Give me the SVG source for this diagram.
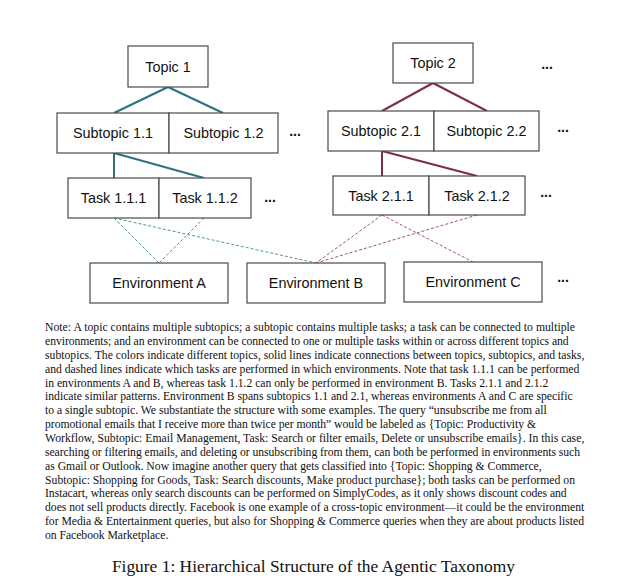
<svg xmlns="http://www.w3.org/2000/svg" width="630" height="584" viewBox="0 0 630 584">
<style>
.box{fill:#fff;stroke:#4a4a4a;stroke-width:1.2}
.lbl{font-family:"Liberation Sans",Arial,sans-serif;font-size:14.4px;fill:#111;text-anchor:middle}
.dots{font-family:"Liberation Sans",Arial,sans-serif;font-size:14px;font-weight:bold;fill:#111;text-anchor:middle}
.t1{stroke:#2b7282;stroke-width:2;fill:none}
.t2{stroke:#7d2f3d;stroke-width:2;fill:none}
.d1{stroke:#4f95a3;stroke-width:1;stroke-dasharray:3 2;fill:none}
.d2{stroke:#a05a68;stroke-width:1;stroke-dasharray:3 2;fill:none}
.note{font-family:"Liberation Serif","Times New Roman",serif;font-size:11.7px;fill:#111}
.cap{font-family:"Liberation Serif","Times New Roman",serif;font-size:17.4px;fill:#111;text-anchor:middle}
</style>
<rect width="630" height="584" fill="#fff"/>
<g id="connectors">
<line class="t1" x1="168" y1="87" x2="114" y2="113"/>
<line class="t1" x1="168" y1="87" x2="223" y2="113"/>
<line class="t1" x1="114" y1="153" x2="114" y2="178"/>
<line class="t1" x1="114" y1="153" x2="204" y2="178"/>
<line class="t2" x1="433" y1="83" x2="382" y2="111"/>
<line class="t2" x1="433" y1="83" x2="487" y2="111"/>
<line class="t2" x1="382" y1="151" x2="382" y2="176"/>
<line class="t2" x1="382" y1="151" x2="477" y2="176"/>
<line class="d1" x1="114" y1="218" x2="159" y2="263"/>
<line class="d1" x1="114" y1="218" x2="316" y2="263"/>
<line class="d1" x1="204" y1="218" x2="159" y2="263"/>
<line class="d2" x1="382" y1="215" x2="316" y2="263"/>
<line class="d2" x1="382" y1="215" x2="473" y2="262"/>
<line class="d2" x1="477" y1="215" x2="316" y2="263"/>
</g>
<g id="topic1"><rect class="box" x="128" y="46" width="80" height="41"/><text class="lbl" x="168" y="71.5">Topic 1</text></g>
<g id="subtopic11"><rect class="box" x="57" y="113" width="112" height="40"/><text class="lbl" x="113" y="138">Subtopic 1.1</text></g>
<g id="subtopic12"><rect class="box" x="169" y="113" width="109" height="40"/><text class="lbl" x="223.5" y="138">Subtopic 1.2</text></g>
<g id="task111"><rect class="box" x="68" y="178" width="91" height="40"/><text class="lbl" x="113.5" y="203">Task 1.1.1</text></g>
<g id="task112"><rect class="box" x="159" y="178" width="92" height="40"/><text class="lbl" x="205" y="203">Task 1.1.2</text></g>
<g id="topic2"><rect class="box" x="393" y="43" width="80" height="40"/><text class="lbl" x="433" y="68">Topic 2</text></g>
<g id="subtopic21"><rect class="box" x="328" y="111" width="106" height="40"/><text class="lbl" x="381" y="136">Subtopic 2.1</text></g>
<g id="subtopic22"><rect class="box" x="434" y="111" width="105" height="40"/><text class="lbl" x="486.5" y="136">Subtopic 2.2</text></g>
<g id="task211"><rect class="box" x="333" y="176" width="96" height="39"/><text class="lbl" x="381" y="200.5">Task 2.1.1</text></g>
<g id="task212"><rect class="box" x="429" y="176" width="96" height="39"/><text class="lbl" x="477" y="200.5">Task 2.1.2</text></g>
<g id="envA"><rect class="box" x="90" y="263" width="138" height="40"/><text class="lbl" x="159" y="288">Environment A</text></g>
<g id="envB"><rect class="box" x="247" y="263" width="138" height="40"/><text class="lbl" x="316" y="288">Environment B</text></g>
<g id="envC"><rect class="box" x="404" y="262" width="138" height="40"/><text class="lbl" x="473" y="287">Environment C</text></g>
<g id="ellipses">
<text class="dots" x="547" y="68.5">...</text>
<text class="dots" x="295" y="136">...</text>
<text class="dots" x="563" y="131.5">...</text>
<text class="dots" x="270" y="201.5">...</text>
<text class="dots" x="546" y="196.5">...</text>
<text class="dots" x="563" y="281.5">...</text>
</g>
<g id="note" class="note">
<text x="45" y="331" textLength="530" lengthAdjust="spacing">Note: A topic contains multiple subtopics; a subtopic contains multiple tasks; a task can be connected to multiple</text>
<text x="45" y="344.9" textLength="523.7" lengthAdjust="spacing">environments; and an environment can be connected to one or multiple tasks within or across different topics and</text>
<text x="45" y="358.7" textLength="539.3" lengthAdjust="spacing">subtopics. The colors indicate different topics, solid lines indicate connections between topics, subtopics, and tasks,</text>
<text x="45" y="372.6" textLength="534.3" lengthAdjust="spacing">and dashed lines indicate which tasks are performed in which environments. Note that task 1.1.1 can be performed</text>
<text x="45" y="386.5" textLength="503.3" lengthAdjust="spacing">in environments A and B, whereas task 1.1.2 can only be performed in environment B. Tasks 2.1.1 and 2.1.2</text>
<text x="45" y="400.4" textLength="527.7" lengthAdjust="spacing">indicate similar patterns. Environment B spans subtopics 1.1 and 2.1, whereas environments A and C are specific</text>
<text x="45" y="414.2" textLength="501.7" lengthAdjust="spacing">to a single subtopic. We substantiate the structure with some examples. The query “unsubscribe me from all</text>
<text x="45" y="428.1" textLength="491" lengthAdjust="spacing">promotional emails that I receive more than twice per month” would be labeled as {Topic: Productivity &amp;</text>
<text x="45" y="442" textLength="539.3" lengthAdjust="spacing">Workflow, Subtopic: Email Management, Task: Search or filter emails, Delete or unsubscribe emails}. In this case,</text>
<text x="45" y="455.8" textLength="535" lengthAdjust="spacing">searching or filtering emails, and deleting or unsubscribing from them, can both be performed in environments such</text>
<text x="45" y="469.7" textLength="496.7" lengthAdjust="spacing">as Gmail or Outlook. Now imagine another query that gets classified into {Topic: Shopping &amp; Commerce,</text>
<text x="45" y="483.6" textLength="530" lengthAdjust="spacing">Subtopic: Shopping for Goods, Task: Search discounts, Make product purchase}; both tasks can be performed on</text>
<text x="45" y="497.4" textLength="521.7" lengthAdjust="spacing">Instacart, whereas only search discounts can be performed on SimplyCodes, as it only shows discount codes and</text>
<text x="45" y="511.3" textLength="539.3" lengthAdjust="spacing">does not sell products directly. Facebook is one example of a cross-topic environment—it could be the environment</text>
<text x="45" y="525.2" textLength="539" lengthAdjust="spacing">for Media &amp; Entertainment queries, but also for Shopping &amp; Commerce queries when they are about products listed</text>
<text x="45" y="539" textLength="123.3" lengthAdjust="spacing">on Facebook Marketplace.</text>
</g>
<g id="caption"><text class="cap" x="313.4" y="572" textLength="403" lengthAdjust="spacing">Figure 1: Hierarchical Structure of the Agentic Taxonomy</text></g>
</svg>
